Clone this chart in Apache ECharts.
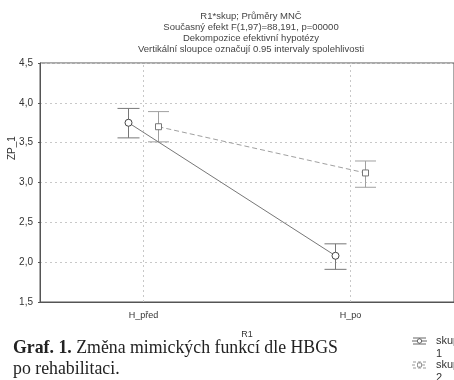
<!DOCTYPE html>
<html>
<head>
<meta charset="utf-8">
<script src="https://cdn.jsdelivr.net/npm/echarts@6/dist/echarts.min.js"></script>
<style>
  html, body { margin: 0; padding: 0; background: #fff; }
  #chart { width: 454px; height: 380px; }
</style>
</head>
<body>
<div id="chart"></div>
<script>
// Factor levels on the x axis
const categories = ['H_před', 'H_po'];
// Group means of ZP_1 with 0.95 confidence limits
const group1Mean = [3.75, 2.08];
const group1Low  = [3.56, 1.91];
const group1High = [3.93, 2.23];
const group2Mean = [3.70, 3.12];
const group2Low  = [3.51, 2.94];
const group2High = [3.89, 3.27];
const yTicks = [1.5, 2.0, 2.5, 3.0, 3.5, 4.0, 4.5];
const titleLines = [
  'R1*skup; Průměry MNČ',
  'Současný efekt F(1,97)=88,191, p=00000',
  'Dekompozice efektivní hypotézy',
  'Vertikální sloupce označují 0.95 intervaly spolehlivosti'
];
const groupNames = ['skup\n1', 'skup\n2'];

const FONT = '"Liberation Sans", Arial, sans-serif';

function rows(mean, low, high) {
  return mean.map((m, i) => [i, m, low[i], high[i]]);
}

// Draws means (marker + connecting line) and error bars, shifted sideways in pixels
function makeRender(rowsArr, opts) {
  return function (params, api) {
    const i = params.dataIndex;
    const x = api.value(0), m = api.value(1), lo = api.value(2), hi = api.value(3);
    const p = api.coord([x, m]);
    const pl = api.coord([x, lo]);
    const ph = api.coord([x, hi]);
    const px = p[0] + opts.dx;
    const cap = opts.cap / 2;
    const lineStyle = { stroke: opts.color, lineWidth: 1 };
    const children = [];
    if (i < rowsArr.length - 1) {
      const n = rowsArr[i + 1];
      const q = api.coord([n[0], n[1]]);
      children.push({
        type: 'line', z2: 1,
        shape: { x1: px, y1: p[1], x2: q[0] + opts.dx, y2: q[1] },
        style: { stroke: opts.color, lineWidth: 1, lineDash: opts.dash }
      });
    }
    children.push(
      { type: 'line', z2: 2, shape: { x1: px, y1: ph[1], x2: px, y2: pl[1] }, style: lineStyle },
      { type: 'line', z2: 2, shape: { x1: px - cap, y1: ph[1], x2: px + cap, y2: ph[1] }, style: lineStyle },
      { type: 'line', z2: 2, shape: { x1: px - cap, y1: pl[1], x2: px + cap, y2: pl[1] }, style: lineStyle }
    );
    if (opts.marker === 'circle') {
      children.push({ type: 'circle', z2: 3, shape: { cx: px, cy: p[1], r: 3.5 },
        style: { fill: '#fff', stroke: opts.markerColor, lineWidth: 1 } });
    } else {
      children.push({ type: 'rect', z2: 3, shape: { x: px - 3, y: p[1] - 3, width: 6, height: 6 },
        style: { fill: '#fff', stroke: opts.markerColor, lineWidth: 1 } });
    }
    return { type: 'group', children };
  };
}

const g1 = rows(group1Mean, group1Low, group1High);
const g2 = rows(group2Mean, group2Low, group2High);

const chart = echarts.init(document.getElementById('chart'), null, { renderer: 'canvas' });

// Legend entry: line with an error-bar glyph and the group label
const legendItem = (y, name, color, dash, marker) => ({
  type: 'group', x: 412, y: y,
  children: [
    { type: 'line', shape: { x1: 0, y1: 0, x2: 15, y2: 0 }, style: { stroke: color, lineWidth: 1, lineDash: dash } },
    { type: 'line', shape: { x1: 7.5, y1: -3, x2: 7.5, y2: 3 }, style: { stroke: color, lineWidth: 1 } },
    { type: 'line', shape: { x1: 1, y1: -3, x2: 14, y2: -3 }, style: { stroke: color, lineWidth: 1, lineDash: dash } },
    { type: 'line', shape: { x1: 1, y1: 3, x2: 14, y2: 3 }, style: { stroke: color, lineWidth: 1, lineDash: dash } },
    marker === 'circle'
      ? { type: 'circle', shape: { cx: 7.5, cy: 0, r: 2.2 }, style: { fill: '#fff', stroke: color } }
      : { type: 'rect', shape: { x: 5.5, y: -2, width: 4, height: 4 }, style: { fill: '#fff', stroke: color } },
    { type: 'text', x: 24, y: -6.5, style: { text: name, font: '11px ' + FONT, fill: '#333', lineHeight: 13 } }
  ]
});

chart.setOption({
  animation: false,
  backgroundColor: '#fff',
  title: {
    text: titleLines.join('\n'),
    left: 246, top: 6, textAlign: 'center',
    textStyle: { fontFamily: FONT, fontSize: 9.5, fontWeight: 'normal', color: '#444', lineHeight: 11 }
  },
  grid: {
    left: 40, top: 63, right: -4, bottom: 78,
    show: true, borderColor: '#555', borderWidth: 1, backgroundColor: 'transparent'
  },
  xAxis: {
    type: 'category',
    data: categories,
    boundaryGap: true,
    name: 'R1', nameLocation: 'middle', nameGap: 28,
    nameTextStyle: { fontFamily: FONT, fontSize: 9, color: '#333' },
    axisLine: { show: true, lineStyle: { color: '#555' } },
    axisTick: { show: true, alignWithLabel: true, length: 2, inside: true, lineStyle: { color: '#555' } },
    axisLabel: { fontFamily: FONT, fontSize: 9, color: '#333', margin: 9 },
    splitLine: { show: false }
  },
  yAxis: {
    type: 'value',
    min: yTicks[0], max: yTicks[yTicks.length - 1], interval: 0.5,
    axisLine: { show: true, lineStyle: { color: '#555' } },
    axisTick: { show: true, length: 2, lineStyle: { color: '#555' } },
    axisLabel: {
      fontFamily: FONT, fontSize: 10, color: '#333', margin: 7,
      formatter: v => v.toFixed(1).replace('.', ',')
    },
    splitLine: { show: true, lineStyle: { color: '#c8c8c8', type: [2, 3], width: 1 } }
  },
  graphic: [
    {
      type: 'text', x: 7, y: 160, rotation: Math.PI / 2,
      style: { text: 'ZP_1', font: '10px ' + FONT, fill: '#333' }
    },
    {
      type: 'text', x: 13, y: 338,
      style: {
        text: '{b|Graf. 1.} Změna mimických funkcí dle HBGS\npo rehabilitaci.',
        font: '17.8px "Liberation Serif", "DejaVu Serif", serif',
        fill: '#222', lineHeight: 21,
        rich: { b: { fontWeight: 'bold', fontSize: 17.8, fontFamily: '"Liberation Serif", serif', fill: '#222' } }
      }
    },
    legendItem(341, groupNames[0], '#666', null, 'circle'),
    legendItem(365, groupNames[1], '#999', [3, 2], 'square')
  ],
  series: [
    {
      type: 'custom', name: 'skup 1',
      coordinateSystem: 'cartesian2d',
      renderItem: makeRender(g1, { dx: -15, cap: 22, color: '#777', markerColor: '#444', dash: null, marker: 'circle' }),
      data: g1,
      encode: { x: 0, y: [1, 2, 3] },
      markLine: {
        silent: true, symbol: 'none', label: { show: false },
        lineStyle: { color: '#c8c8c8', type: [2, 3], width: 1 },
        data: categories.map(c => ({ xAxis: c }))
      },
      z: 3
    },
    {
      type: 'custom', name: 'skup 2',
      coordinateSystem: 'cartesian2d',
      renderItem: makeRender(g2, { dx: 15, cap: 21, color: '#a0a0a0', markerColor: '#777', dash: [5, 3], marker: 'square' }),
      data: g2,
      encode: { x: 0, y: [1, 2, 3] },
      z: 2
    }
  ]
});
</script>
</body>
</html>
